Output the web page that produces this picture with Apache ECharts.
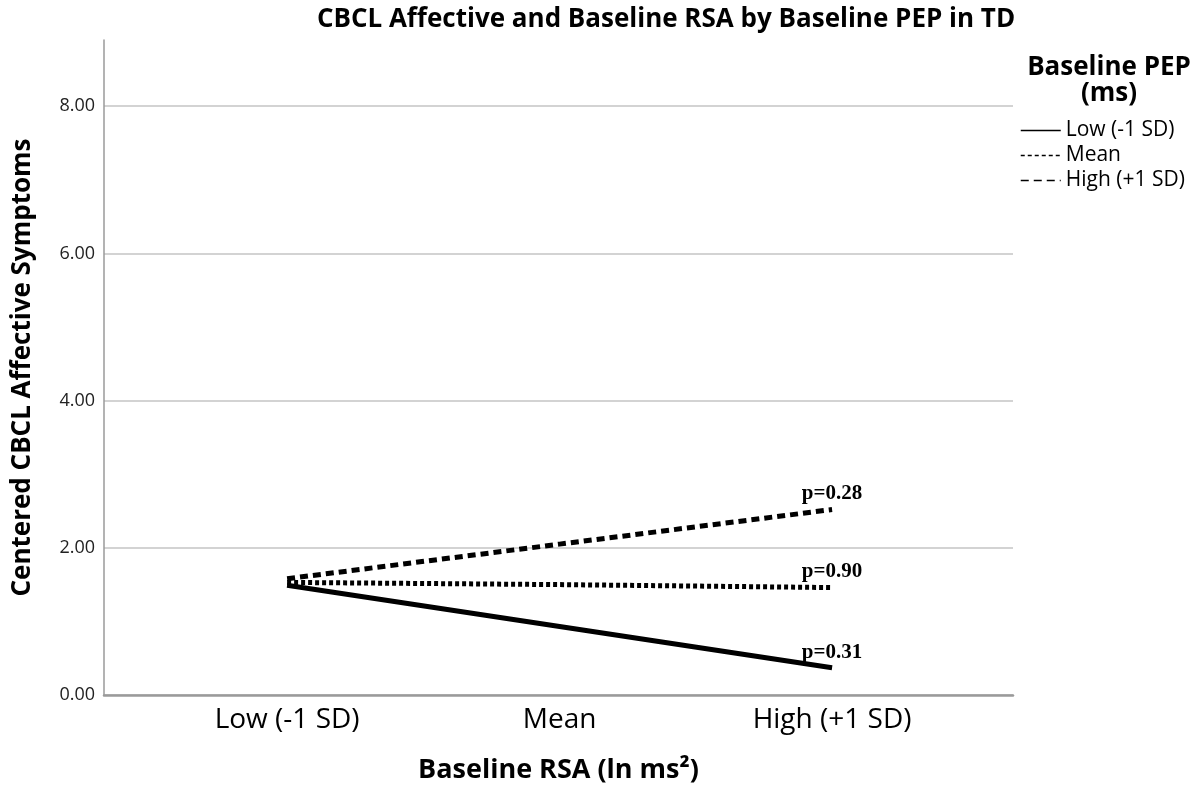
<!DOCTYPE html>
<html>
<head>
<meta charset="utf-8">
<script src="https://cdn.jsdelivr.net/npm/echarts@6/dist/echarts.min.js"></script>
<style>
  html, body { margin: 0; padding: 0; background: #fff; }
  #chart { width: 1203px; height: 789px; }
</style>
</head>
<body>
<div id="chart"></div>
<script>
// x categories (Baseline RSA) and y ticks
const rsaLevels = ['Low (-1 SD)', 'Mean', 'High (+1 SD)']
const yTicks = [0, 2, 4, 6, 8]

// one line per Baseline PEP level
const pepLevels = ['Low (-1 SD)', 'Mean', 'High (+1 SD)']
const lowPep = [1.49, 0.93, 0.37]
const meanPep = [1.53, 1.50, 1.46]
const highPep = [1.58, 2.05, 2.52]
const pValues = ['p=0.31', 'p=0.90', 'p=0.28']

const font = '"Open Sans", "DejaVu Sans", sans-serif'
const myChart = echarts.init(document.getElementById('chart'))

function makeSeries (name, values, type, pLabel) {
  return {
    name: name,
    type: 'line',
    data: values.map((v, i) => [i, v]),
    symbol: 'none',
    lineStyle: { color: '#000', width: 5, type: type, cap: 'butt' },
    itemStyle: { color: '#000' },
    markPoint: {
      symbol: 'circle',
      symbolSize: 0,
      data: [{ coord: [values.length - 1, values[values.length - 1]], value: pLabel }],
      label: {
        show: true,
        position: 'top',
        distance: 5,
        formatter: pLabel,
        color: '#000',
        fontFamily: '"Liberation Serif", "DejaVu Serif", serif',
        fontWeight: 'bold',
        fontSize: 21
      }
    }
  }
}

const option = {
  animation: false,
  title: [
    {
      text: 'CBCL Affective and Baseline RSA by Baseline PEP in TD',
      left: 661,
      top: 2,
      textAlign: 'center',
      textStyle: { fontFamily: font, fontWeight: 'bold', fontSize: 26, color: '#000' }
    },
    {
      text: 'Baseline PEP\n(ms)',
      left: 1104,
      top: 50,
      textAlign: 'center',
      textStyle: { fontFamily: font, fontWeight: 'bold', fontSize: 26, lineHeight: 26, color: '#000' }
    }
  ],
  legend: {
    orient: 'vertical',
    left: 1015,
    top: 115,
    itemWidth: 40,
    itemHeight: 10,
    itemGap: 4,
    data: pepLevels,
    lineStyle: { width: 1.5 },
    itemStyle: { opacity: 0 },
    textStyle: { fontFamily: font, fontSize: 21, lineHeight: 21, color: '#000', padding: [0, 0, 0, 0] }
  },
  grid: { left: 104, right: 190, top: 40, bottom: 91 },
  xAxis: {
    type: 'value',
    min: -0.672,
    max: 2.664,
    name: 'Baseline RSA (ln ms²)',
    nameLocation: 'middle',
    nameGap: 62,
    nameTextStyle: { fontFamily: font, fontWeight: 'bold', fontSize: 27, color: '#000' },
    axisLine: { onZero: false, lineStyle: { color: '#9a9a9a', width: 2.5 } },
    axisTick: { show: false },
    splitLine: { show: false },
    axisLabel: {
      customValues: [0, 1, 2],
      formatter: v => rsaLevels[Math.round(v)],
      fontFamily: font,
      fontSize: 28,
      color: '#000',
      margin: 11
    }
  },
  yAxis: {
    type: 'value',
    min: 0,
    max: 8.9,
    interval: 2,
    name: 'Centered CBCL Affective Symptoms',
    nameLocation: 'middle',
    nameGap: 68,
    nameTextStyle: { fontFamily: font, fontWeight: 'bold', fontSize: 26, color: '#000' },
    axisLine: { show: true, onZero: false, lineStyle: { color: '#9a9a9a', width: 1.5 } },
    axisTick: { show: false },
    splitLine: { lineStyle: { color: ['#c4c4c4', '#c4c4c4', '#c4c4c4', '#c4c4c4', '#c4c4c4', 'rgba(0,0,0,0)'], width: 1.5 } },
    axisLabel: {
      showMaxLabel: false,
      formatter: v => (yTicks.indexOf(v) >= 0 ? v.toFixed(2) : ''),
      fontFamily: font,
      fontSize: 18,
      color: '#222',
      margin: 9
    }
  },
  series: [
    makeSeries(pepLevels[0], lowPep, 'solid', pValues[0]),
    makeSeries(pepLevels[1], meanPep, [4, 3], pValues[1]),
    makeSeries(pepLevels[2], highPep, [8, 5], pValues[2])
  ]
}

myChart.setOption(option)
</script>
</body>
</html>
